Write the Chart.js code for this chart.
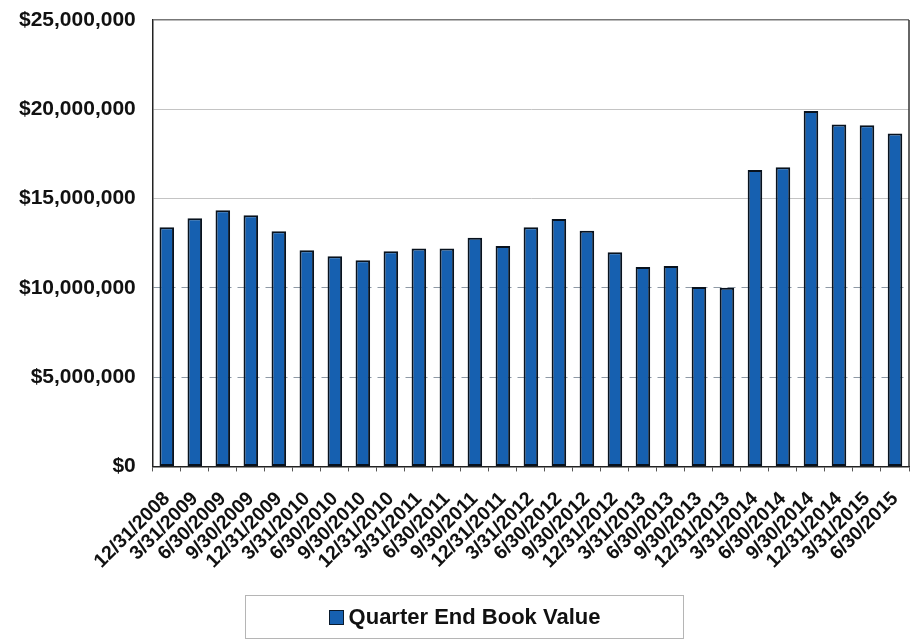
<!DOCTYPE html>
<html>
<head>
<meta charset="utf-8">
<title>Quarter End Book Value</title>
<script src="https://cdn.jsdelivr.net/npm/chart.js@4.4.1/dist/chart.umd.min.js"></script>
<style>
    html, body { margin: 0; padding: 0; background: #fff; }
    #wrap { position: relative; width: 911px; height: 641px; }
    #legend-box {
        position: absolute; left: 245px; top: 595px; width: 439px; height: 44px;
        border: 1px solid #b5b5b5; box-sizing: border-box;
        display: flex; align-items: center; justify-content: center;
        font: bold 22px "Liberation Sans", Arial, sans-serif; color: #111;
    }
    #legend-box .swatch {
        display: inline-block; width: 13px; height: 13px; margin-right: 5px;
        background: #1660b0; border: 1px solid #0a1a2c;
    }
</style>
</head>
<body>
<div id="wrap">
    <canvas id="bookChart" width="911" height="641"></canvas>
    <div id="legend-box"><span class="swatch"></span>Quarter End Book Value</div>
</div>
<script>
// --- DATA ---
const quarters = [
    '12/31/2008', '3/31/2009', '6/30/2009', '9/30/2009', '12/31/2009',
    '3/31/2010', '6/30/2010', '9/30/2010', '12/31/2010',
    '3/31/2011', '6/30/2011', '9/30/2011', '12/31/2011',
    '3/31/2012', '6/30/2012', '9/30/2012', '12/31/2012',
    '3/31/2013', '6/30/2013', '9/30/2013', '12/31/2013',
    '3/31/2014', '6/30/2014', '9/30/2014', '12/31/2014',
    '3/31/2015', '6/30/2015'
];

// book value at quarter end, dollars
const bookValues = [
    13400000, 13900000, 14350000, 14070000, 13170000,
    12100000, 11770000, 11550000, 12050000,
    12200000, 12200000, 12800000, 12350000,
    13400000, 13850000, 13200000, 12000000,
    11170000, 11230000, 10050000, 10000000,
    16600000, 16750000, 19900000, 19150000,
    19100000, 18650000
];

const yTicks = [0, 5000000, 10000000, 15000000, 20000000, 25000000];

const FONT = '"Liberation Sans", Arial, sans-serif';

// draws the right edge of the plot frame
const frameEdge = {
    id: 'frameEdge',
    afterDraw(chart) {
        const { ctx, chartArea: a } = chart;
        ctx.save();
        ctx.strokeStyle = '#333';
        ctx.lineWidth = 1.5;
        ctx.beginPath();
        ctx.moveTo(a.right, a.top);
        ctx.lineTo(a.right, a.bottom);
        ctx.stroke();
        ctx.restore();
    }
};

// --- CHART ---
new Chart(document.getElementById('bookChart'), {
    type: 'bar',
    data: {
        labels: quarters,
        datasets: [{
            label: 'Quarter End Book Value',
            data: bookValues,
            backgroundColor: '#1660b0',
            borderColor: '#08121e',
            borderWidth: 2,
            borderSkipped: false,
            categoryPercentage: 1,
            barPercentage: 0.52
        }]
    },
    options: {
        responsive: false,
        animation: false,
        layout: { padding: { top: 20, right: 2, left: 2, bottom: 52 } },
        plugins: {
            legend: { display: false },
            tooltip: { enabled: false }
        },
        scales: {
            x: {
                afterFit: (scale) => { scale.paddingRight = 0; },
                grid: { drawOnChartArea: false, drawTicks: true, tickLength: 5, color: '#555' },
                border: { color: '#222', width: 1.5 },
                ticks: {
                    autoSkip: false,
                    minRotation: 45,
                    maxRotation: 45,
                    padding: 16,
                    color: '#111',
                    font: { family: FONT, size: 19.5, weight: 'bold' }
                }
            },
            y: {
                min: 0,
                max: 25000000,
                afterBuildTicks: (scale) => { scale.ticks = yTicks.map(v => ({ value: v })); },
                afterFit: (scale) => { scale.paddingTop = 0; scale.paddingBottom = 0; },
                grid: {
                    drawTicks: false,
                    color: (c) => c.tick && c.tick.value === 25000000 ? '#777' : (c.tick && c.tick.value >= 15000000 ? '#c4c4c4' : '#8f9aa6'),
                    lineWidth: (c) => c.tick && c.tick.value === 25000000 ? 1.5 : 1
                },
                border: {
                    color: '#222',
                    width: 1.5,
                    dash: (c) => (c.tick && c.tick.value > 0 && c.tick.value < 15000000) ? [8, 6] : []
                },
                ticks: {
                    padding: 17,
                    color: '#111',
                    font: { family: FONT, size: 21, weight: 'bold' },
                    callback: (v) => '$' + Number(v).toLocaleString('en-US')
                }
            }
        }
    },
    plugins: [frameEdge]
});
</script>
</body>
</html>
